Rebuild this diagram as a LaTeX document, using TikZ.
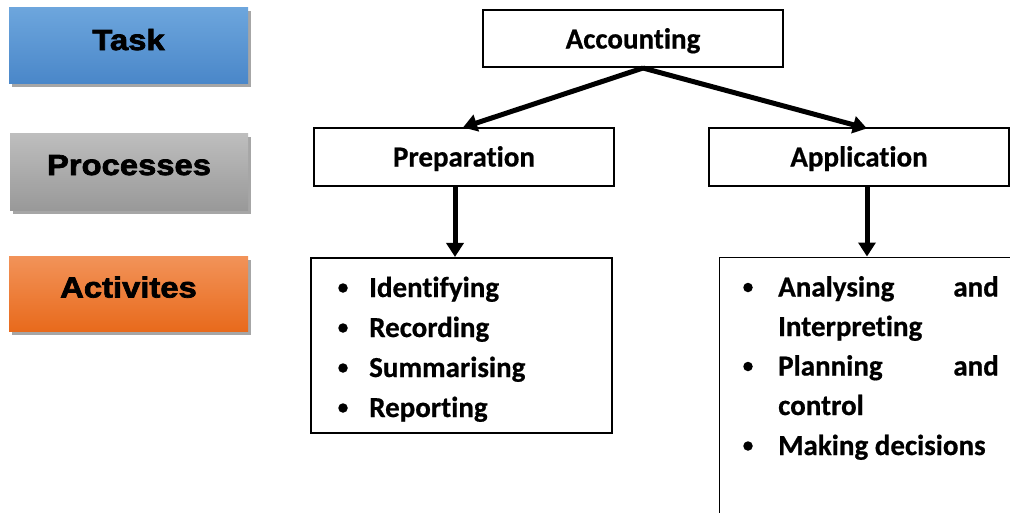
\documentclass[tikz,border=0pt]{standalone}
\usepackage{fontspec}
\setmainfont{Carlito}[Ligatures=NoCommon,BoldFeatures={FakeBold=0.6}]
\newfontfamily\heavyfont{Liberation Sans Bold}[FakeBold=2.5,FakeStretch=1.13]
\usetikzlibrary{arrows.meta,shadows,calc}
\definecolor{taskT}{HTML}{6DA6DD}
\definecolor{taskB}{HTML}{4A87C9}
\definecolor{procT}{HTML}{BEBEBE}
\definecolor{procB}{HTML}{999999}
\definecolor{actT}{HTML}{F29359}
\definecolor{actB}{HTML}{E86A1C}
\begin{document}
\begin{tikzpicture}[x=1pt,y=-1pt,
  label/.style={minimum width=239pt,minimum height=76pt,inner sep=0pt,
    drop shadow={shadow xshift=3pt,shadow yshift=-4pt,fill=black,opacity=0.35}},
  ltext/.style={inner sep=0pt,anchor=base,font=\heavyfont\fontsize{29}{29}\selectfont},
  tbox/.style={draw=black,line width=1.1pt,fill=white,inner sep=0pt},
  item/.style={anchor=base west,inner sep=0pt,font=\bfseries\fontsize{29}{29}\selectfont},
  dot/.style={circle,fill=black,minimum size=9.5pt,inner sep=0pt},
  conn/.style={line width=5pt,-{Triangle[length=14pt,width=17pt]}}]
\clip (0,0) rectangle (1010,512);
\fill[white] (0,0) rectangle (1010,512);
% left labels
\node[label,top color=taskT,bottom color=taskB] (task) at (128.5,45) {};
\node[ltext] (taskt) at (128.5,50) {Task};
\node[label,top color=procT,bottom color=procB,minimum height=77pt,minimum width=238pt] (proc) at (129,171.5) {};
\node[ltext] (proct) at (129,175) {Processes};
\node[label,top color=actT,bottom color=actB,minimum height=75pt] (act) at (128.5,293.5) {};
\node[ltext] (actt) at (128.5,297.5) {Activites};
% main boxes
\node[tbox,minimum width=300pt,minimum height=57pt] (acc) at (633,38.5) {};
\node[item,anchor=base] (acct) at (633,48.5) {Accounting};
\node[tbox,minimum width=300pt,minimum height=58pt] (prep) at (464,157) {};
\node[item,anchor=base] (prept) at (464,166.5) {Preparation};
\node[tbox,minimum width=300pt,minimum height=58pt] (app) at (859,157) {};
\node[item,anchor=base] (appt) at (859,166.5) {Application};
\node[tbox,minimum width=301pt,minimum height=175pt] (plist) at (461.5,345.5) {};
\node[tbox,minimum width=320pt,minimum height=280pt,anchor=north west] (alist) at (719,257) {};
% connectors
\coordinate (split) at (643,68);
\draw[conn] (split) -- ($(prep.north)+(-1,0)$);
\draw[conn] (split) -- ($(app.north)+(8,1)$);
\draw[conn] ($(prep.south)+(-9,0)$) -- ($(plist.north)+(-6.5,-0.5)$);
\draw[conn] ($(app.south)+(8,0)$) -- ($(alist.north west)+(148,-0.5)$);
% preparation list
\node[dot] (d1) at (343,288) {};
\node[item] (i1) at (369,297) {Identifying};
\node[dot] (d2) at (343,328) {};
\node[item] (i2) at (369,337) {Recording};
\node[dot] (d3) at (343,368) {};
\node[item] (i3) at (369,377) {Summarising};
\node[dot] (d4) at (343,408) {};
\node[item] (i4) at (369,417) {Reporting};
% application list
\node[dot] (e1) at (748,287.5) {};
\node[item] (j1) at (778,296.5) {Analysing};
\node[item,anchor=base east] (j1b) at (999,296.5) {and};
\node[item] (j2) at (778,336) {Interpreting};
\node[dot] (e3) at (748,366.5) {};
\node[item] (j3) at (778,375.5) {Planning};
\node[item,anchor=base east] (j3b) at (999,375.5) {and};
\node[item] (j4) at (778,415) {control};
\node[dot] (e5) at (748,446) {};
\node[item] (j5) at (778,455) {Making decisions};
\end{tikzpicture}
\end{document}
